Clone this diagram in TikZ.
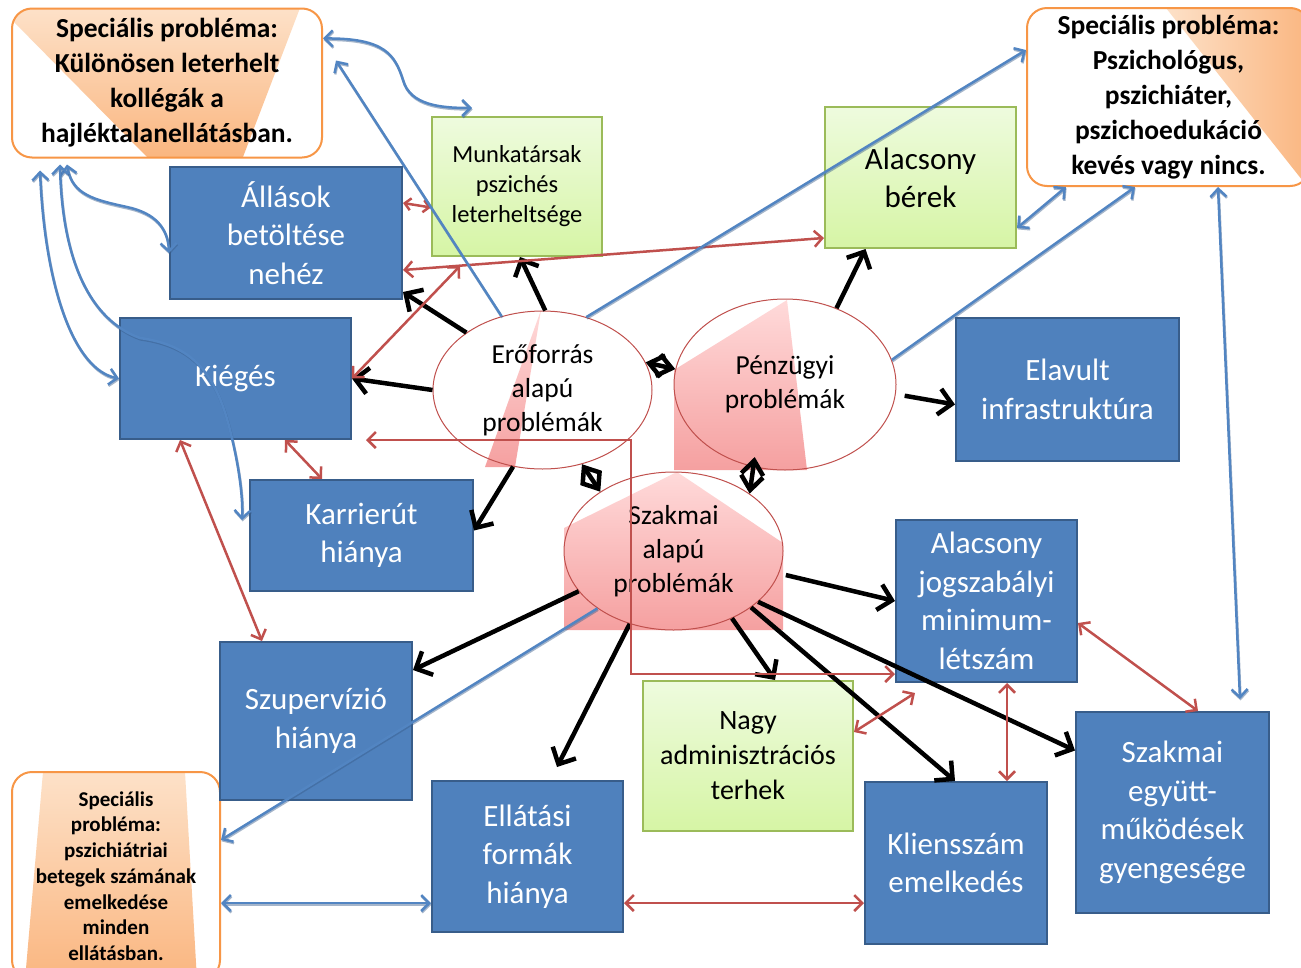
\documentclass[tikz,border=0pt]{standalone}
\usepackage{fontspec}
\setmainfont{Carlito}
\usetikzlibrary{arrows.meta,shapes.geometric,calc}
\definecolor{bxblue}{RGB}{79,129,189}
\definecolor{bxblueD}{RGB}{56,93,138}
\definecolor{lnblue}{RGB}{82,133,194}
\definecolor{lnred}{RGB}{192,80,77}
\definecolor{orC}{RGB}{247,150,70}
\definecolor{orL}{RGB}{253,225,200}
\definecolor{orD}{RGB}{250,182,128}
\definecolor{grB}{RGB}{155,187,89}
\definecolor{grT}{RGB}{238,251,222}
\definecolor{grBt}{RGB}{214,245,165}
\definecolor{pkL}{RGB}{255,218,218}
\definecolor{pkD}{RGB}{245,160,160}
\begin{document}
\begin{tikzpicture}[x=1pt,y=-1pt,
  bluebox/.style={draw=bxblueD, line width=2pt, fill=bxblue, text=white, align=center, inner sep=0pt, font=\fontsize{31}{38.5}\selectfont},
  greenbox/.style={draw=grB, line width=2pt, top color=grT, bottom color=grBt, align=center, inner sep=0pt, font=\fontsize{31}{38}\selectfont},
  spbox/.style={draw=orC, line width=2pt, rounded corners=20pt, align=center, inner sep=0pt, font=\bfseries\fontsize{27.5}{35}\selectfont},
  probell/.style={ellipse, draw=lnred, line width=1pt, align=center, inner sep=0pt, font=\fontsize{27.5}{34}\selectfont},
  blk/.style={line width=4.5pt, -{Straight Barb[length=13pt,width=26pt]}},
  blkd/.style={line width=4.5pt, {Straight Barb[length=14pt,width=22pt]}-{Straight Barb[length=14pt,width=22pt]}},
  rd/.style={lnred, line width=2.5pt, {Straight Barb[length=8pt,width=16pt]}-{Straight Barb[length=8pt,width=16pt]}},
  rds/.style={lnred, line width=2.5pt, {Straight Barb[length=6pt,width=12pt]}-{Straight Barb[length=6pt,width=12pt]}},
  blsh/.style={preaction={draw=bxblueD, opacity=0.45, line width=2.5pt, transform canvas={xshift=0.6pt,yshift=-1.4pt}}},
  bl/.style={blsh, lnblue, line width=2.5pt, {Straight Barb[length=8pt,width=16pt]}-{Straight Barb[length=8pt,width=16pt]}},
  blo/.style={blsh, lnblue, line width=2.5pt, -{Straight Barb[length=8pt,width=16pt]}},
]
\fill[white] (0,0) rectangle (1301,967);
\useasboundingbox (0,0) rectangle (1301,967);

% special box backgrounds
\begin{scope}
\clip[rounded corners=20pt] (12,8) rectangle (322,157);
\fill[white] (12,8) rectangle (322,157);
\shade[top color=orL, bottom color=orD] (12,8) -- (300,8) -- (243,157) -- (147,157) -- (12,20) -- cycle;
\end{scope}
\begin{scope}
\clip[rounded corners=20pt] (1027,8) rectangle (1310,186);
\fill[white] (1027,8) rectangle (1310,186);
\shade[left color=orL, right color=orD] (1166,8) -- (1310,8) -- (1310,190) -- cycle;
\end{scope}
\begin{scope}
\clip[rounded corners=20pt] (12,772) rectangle (220,980);
\fill[white] (12,772) rectangle (220,980);
\shade[top color=orL, bottom color=orD] (43,772) -- (185,772) -- (197,980) -- (25,980) -- cycle;
\end{scope}

\node[spbox, minimum width=310pt, minimum height=149pt] (spTL) at (167,83) {Speciális probléma:\\Különösen leterhelt\\kollégák a\\hajléktalanellátásban.};
\node[spbox, minimum width=283pt, minimum height=178pt] (spTR) at (1168.5,97) {Speciális probléma:\\Pszichológus,\\pszichiáter,\\pszichoedukáció\\kevés vagy nincs.};
\node[spbox, minimum width=208pt, minimum height=208pt, font=\bfseries\fontsize{21}{25.7}\selectfont] (spBL) at (116,876) {Speciális\\probléma:\\pszichiátriai\\betegek számának\\emelkedése\\minden\\ellátásban.};

% boxes
\node[bluebox, minimum width=232pt, minimum height=132pt] (allas) at (286,233) {Állások\\betöltése\\nehéz};
\node[greenbox, minimum width=170pt, minimum height=139pt, font=\fontsize{24.5}{30}\selectfont] (munka) at (517,186.5) {Munkatársak\\pszichés\\leterheltsége};
\node[greenbox, minimum width=191pt, minimum height=141pt] (berek) at (920.5,177.5) {Alacsony\\bérek};
\node[bluebox, minimum width=231pt, minimum height=121pt] (kieges) at (235.5,378.5) {Kiégés};
\node[bluebox, minimum width=223pt, minimum height=143pt] (elavult) at (1067.5,389.5) {Elavult\\infrastruktúra};
\node[bluebox, minimum width=223pt, minimum height=111pt] (karrier) at (361.5,535.5) {Karrierút\\hiánya};
\node[bluebox, minimum width=181pt, minimum height=162pt] (jog) at (986.5,601) {Alacsony\\jogszabályi\\minimum-\\létszám};
\node[bluebox, minimum width=192pt, minimum height=158pt] (szuper) at (316,721) {Szupervízió\\hiánya};
\node[greenbox, minimum width=210pt, minimum height=150pt, font=\fontsize{28}{35}\selectfont] (nagy) at (748,756) {Nagy\\adminisztrációs\\terhek};
\node[bluebox, minimum width=191pt, minimum height=151pt] (ellatas) at (527.5,856.5) {Ellátási\\formák\\hiánya};
\node[bluebox, minimum width=182pt, minimum height=162pt] (kliens) at (956,863) {Kliensszám\\emelkedés};
\node[bluebox, minimum width=193pt, minimum height=201pt] (egyutt) at (1172.5,812.5) {Szakmai\\együtt-\\működések\\gyengesége};

% ellipses
\fill[white] (542.5,388) ellipse [x radius=109.5, y radius=79];
\shade[top color=pkL, bottom color=pkD] (541,310) -- (515,467) -- (485,467) -- cycle;
\node[probell, minimum width=219pt, minimum height=158pt] (erof) at (542.5,390) {Erőforrás\\alapú\\problémák};
\fill[white] (785,384.5) ellipse [x radius=111, y radius=85.5];
\shade[top color=pkL, bottom color=pkD] (787,300) -- (807,470) -- (674,470) -- (674,370) -- cycle;
\node[probell, minimum width=222pt, minimum height=171pt] (penz) at (785,384.5) {Pénzügyi\\problémák};
\fill[white] (673.5,551) ellipse [x radius=109.5, y radius=79];
\shade[top color=pkL, bottom color=pkD] (677,472) -- (783,543) -- (783,630) -- (564,630) -- (564,528) -- cycle;
\node[probell, minimum width=219pt, minimum height=158pt] (szak) at (673.5,551) {Szakmai\\alapú\\problémák};

% black arrows
\draw[blk] (erof.143) -- ([yshift=8pt]allas.south east);
\draw[blk] (erof.88) -- ([xshift=3pt]munka.south);
\draw[blk] (erof.west) -- (kieges.east);
\draw[blk] (erof.-111) -- ([yshift=5pt]karrier.east);
\draw[blk] (penz.56) -- ([xshift=-55pt]berek.south);
\draw[blk, shorten <=9pt] (penz.-5) -- ([yshift=-15pt]elavult.west);
\draw[blk, shorten <=7pt] (szak.-12) -- (jog.west);
\draw[blk] (szak.203) -- ([yshift=51pt]szuper.east);
\draw[blk] (szak.-121) -- ([xshift=29.5pt,yshift=13pt]ellatas.north);
\draw[blk] (szak.-49) -- ([xshift=27pt]nagy.north);
\draw[blk] (szak.-36) -- ([xshift=-1pt]kliens.north);
\draw[blk] (szak.-31) -- ([yshift=62pt]egyutt.west);
\draw[blkd] (erof.15) -- (penz.172);
\draw[blkd] (erof.-62) -- (szak.141);
\draw[blkd, shorten <=-10pt] (penz.-111) -- (szak.37);

% red arrows
\coordinate (rj) at (460,266);
\draw[rd] ([yshift=-37pt]allas.east) -- ([yshift=-60.5pt]berek.west);
\draw[rd] (kieges.east) -- (rj);
\draw[rds] ([yshift=30pt]allas.east) -- ([yshift=-21pt]munka.west);
\draw[rd] ([xshift=14pt]kieges.south east) -- ++(265,0) |- ([yshift=9pt]jog.south west);
\draw[rd] ([xshift=49.5pt]kieges.south) -- ([xshift=-39.5pt]karrier.north);
\draw[rd] ([xshift=-55.5pt]kieges.south) -- ([xshift=-54pt]szuper.north);
\draw[rd] ([yshift=24pt]nagy.east) -- ([xshift=-71.5pt,yshift=-10pt]jog.south);
\draw[rd] ([xshift=20.5pt]jog.south) -- ([xshift=51pt]kliens.north);
\draw[rd] ([yshift=-22pt]jog.east) -- ([xshift=25.5pt]egyutt.north);
\draw[rd] ([yshift=-46.5pt]ellatas.east) -- ([yshift=-40pt]kliens.west);

% blue arrows
\draw[bl] ([yshift=44.5pt]spTL.east) .. controls (385,38) and (395,55) .. (403,80) .. controls (410,105) and (440,108) .. ([xshift=-45pt,yshift=8pt]munka.north);
\draw[blo] (erof.119) -- ([xshift=13pt,yshift=22.5pt]spTL.east);
\draw[bl] ([xshift=-100pt,yshift=-6pt]spTL.south) .. controls (72,195) and (95,200) .. (127,207) .. controls (155,213) and (168,228) .. ([yshift=-20pt]allas.west);
\draw[bl] ([xshift=-127pt,yshift=-12pt]spTL.south) .. controls (45,290) and (75,370) .. (kieges.west);
\draw[bl] ([xshift=-107pt,yshift=-6pt]spTL.south) .. controls (62,260) and (90,320) .. (140,338) .. controls (190,345) and (215,370) .. (230,430) .. controls (240,470) and (243,500) .. ([xshift=-7pt,yshift=15.5pt]karrier.west);
\draw[blo] (erof.59) -- ([yshift=47pt]spTR.west);
\draw[blo] (penz.13) -- ([xshift=-33.5pt]spTR.south);
\draw[bl] ([yshift=-50.5pt]berek.east) -- ([xshift=-102.5pt]spTR.south);
\draw[bl] ([xshift=49.5pt]spTR.south) -- ([xshift=67.5pt,yshift=12pt]egyutt.north);
\draw[blo] (szak.217) -- ([yshift=36pt]spBL.east);
\draw[bl] ([yshift=-27pt]spBL.east) -- ([yshift=-46.5pt]ellatas.west);
\end{tikzpicture}
\end{document}
